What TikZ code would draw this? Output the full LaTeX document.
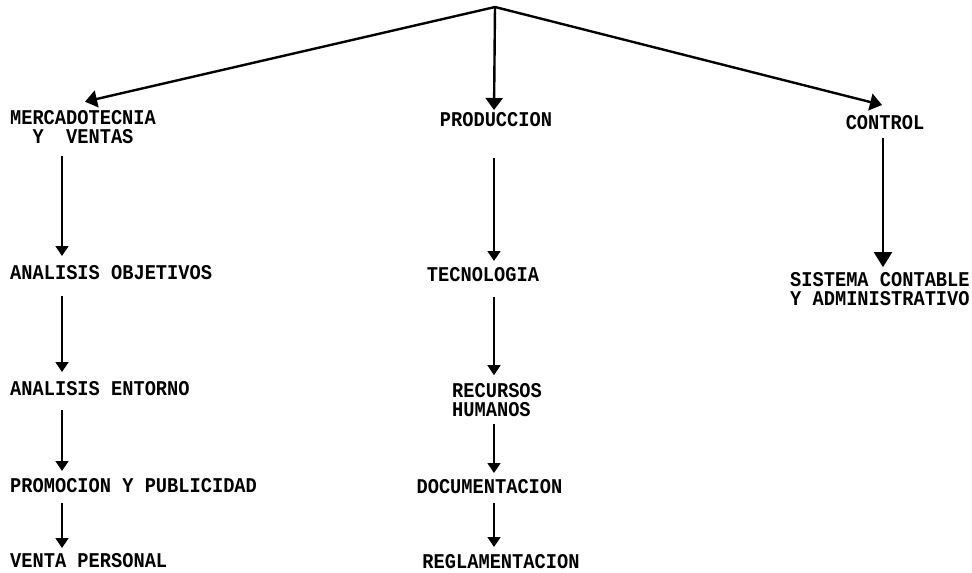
\documentclass[tikz,border=0pt]{standalone}
\usepackage{fontspec}
\setmonofont[FakeStretch=0.89]{Liberation Mono}
\usetikzlibrary{arrows.meta}

\tikzset{
  rotulo/.style={font=\ttfamily\bfseries\fontsize{21}{19}\selectfont, inner sep=0pt},
  uno/.style={rotulo, text height=13.6pt, text depth=0pt},
  linea/.style={-{Triangle[width=13pt,length=10pt]}, line width=1.4pt},
  gruesa/.style={-{Triangle[width=18pt,length=15pt]}, line width=2pt},
  rama/.style={-{Triangle[width=17pt,length=12pt]}, line width=2.4pt},
}

\begin{document}
\begin{tikzpicture}[x=1pt,y=-1pt]
  \useasboundingbox (0,0) rectangle (972,573);
  \coordinate (cima) at (495,7);
  \coordinate (colizq) at (62,0);
  \coordinate (colcen) at (494,0);
  \coordinate (colder) at (883,0);

  % primer nivel
  \draw (83,127.5) node[rotulo,align=center] (merc) {MERCADOTECNIA\\Y~~VENTAS};
  \draw (496,120) node[uno] (prod) {PRODUCCION};
  \draw (885,123) node[uno] (control) {CONTROL};

  % mercadotecnia
  \draw (10,273) node[uno,anchor=west] (obj) {ANALISIS OBJETIVOS};
  \draw (10,389) node[uno,anchor=west] (ent) {ANALISIS ENTORNO};
  \draw (10,486) node[uno,anchor=west] (promo) {PROMOCION Y PUBLICIDAD};
  \draw (10,561) node[uno,anchor=west] (venta) {VENTA PERSONAL};

  % produccion
  \draw (483,275) node[uno] (tec) {TECNOLOGIA};
  \draw (452,400) node[rotulo,align=left,anchor=west] (recur) {RECURSOS\\HUMANOS};
  \draw (489.5,487) node[uno] (doc) {DOCUMENTACION};
  \draw (501,562) node[uno] (regl) {REGLAMENTACION};

  % control
  \draw (790,289) node[rotulo,align=left,anchor=west] (sist) {SISTEMA CONTABLE\\Y ADMINISTRATIVO};

  \path[rama] (cima) edge ([xshift=2pt,yshift=9pt]merc.north);
  \path[rama] (cima) edge[shorten >=3pt] (prod.north -| colcen);
  \path[rama] (cima) edge ([xshift=-3pt,yshift=11pt]control.north);

  \path[linea] (merc.south -| colizq) edge[shorten <=12pt,shorten >=10pt] (obj.north -| colizq);
  \path[linea] (obj.south -| colizq) edge[shorten <=16pt,shorten >=10pt] (ent.north -| colizq);
  \path[linea] (ent.south -| colizq) edge[shorten <=14pt,shorten >=8pt] (promo.north -| colizq);
  \path[linea] (promo.south -| colizq) edge[shorten <=10pt,shorten >=6pt] (venta.north -| colizq);

  \path[linea] (prod.south -| colcen) edge[shorten <=31pt,shorten >=7pt] (tec.north -| colcen);
  \path[linea] (tec.south -| colcen) edge[shorten <=15pt,shorten >=8pt] (recur.north -| colcen);
  \path[linea] (recur.south -| colcen) edge[shorten <=7pt,shorten >=7pt] (doc.north -| colcen);
  \path[linea] (doc.south -| colcen) edge[shorten <=9pt,shorten >=8pt] (regl.north -| colcen);

  \path[gruesa] (control.south -| colder) edge[shorten <=8pt,shorten >=5pt] (sist.north -| colder);
\end{tikzpicture}
\end{document}
